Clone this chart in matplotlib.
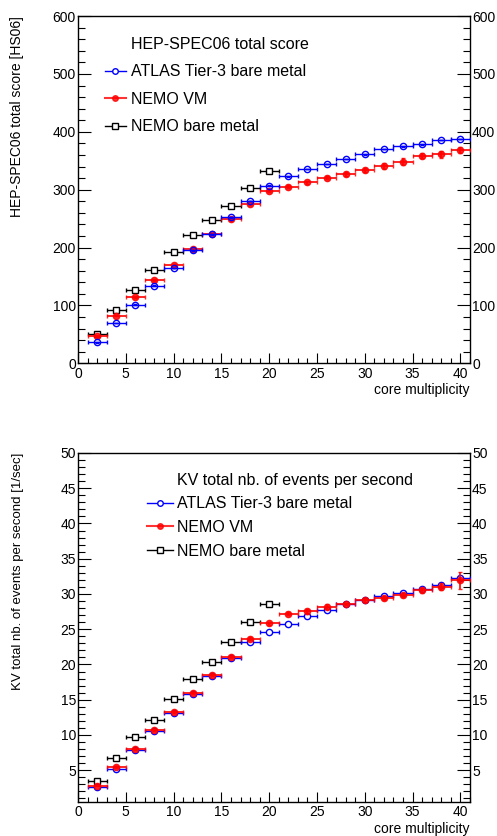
import matplotlib
matplotlib.use("Agg")
import matplotlib.pyplot as plt
from matplotlib.lines import Line2D
from matplotlib.ticker import MultipleLocator

plt.rcParams['font.family'] = ['Liberation Sans', 'DejaVu Sans']

# core multiplicity (bin centres, bin width 2)
cores = [2, 4, 6, 8, 10, 12, 14, 16, 18, 20, 22, 24, 26, 28, 30, 32, 34, 36, 38, 40]
cores_bm = cores[:10]
xerr = 1

# HEP-SPEC06 total score [HS06]
atlas_hs = [36, 70, 101.5, 134, 165, 195, 223, 252, 280.5, 307,
            323, 336, 344.5, 353, 361, 370, 375, 378.5, 386, 387.5]
nemo_vm_hs = [46.5, 82, 114, 144, 170, 197, 223, 248.5, 275, 298.5,
              305.5, 313, 321, 327, 334, 341.5, 348.5, 359, 361, 368.5]
nemo_vm_hs_err = [1, 1, 1, 1, 1, 1.5, 1.5, 2, 2, 2.5,
                  2, 2.5, 3, 3.5, 4, 5, 5.5, 5, 5.5, 5]
nemo_bm_hs = [50, 92, 127, 160.5, 193, 221.5, 247, 272.5, 303.5, 332]

# KV total nb. of events per second [1/sec]
atlas_kv = [2.63, 5.24, 7.9, 10.55, 13.15, 15.8, 18.35, 20.95, 23.14, 24.6,
            25.8, 26.86, 27.71, 28.57, 29.2, 29.67, 30.2, 30.7, 31.24, 32.3]
nemo_vm_kv = [2.82, 5.47, 7.97, 10.67, 13.24, 15.9, 18.45, 21.05, 23.67, 25.86,
              27.2, 27.57, 28.19, 28.57, 29.12, 29.43, 29.8, 30.55, 31.05, 31.95]
nemo_vm_kv_err = [0.1, 0.1, 0.1, 0.1, 0.1, 0.15, 0.15, 0.15, 0.2, 0.2,
                  0.25, 0.35, 0.35, 0.2, 0.25, 0.3, 0.3, 0.35, 0.45, 1.2]
nemo_bm_kv = [3.44, 6.7, 9.68, 12.15, 15.14, 17.94, 20.3, 23.25, 26.04, 28.57]

BLUE = '#0000ff'
RED = '#ff0000'
BLACK = '#000000'


def draw_series(ax, x, y, yerr, color, marker, fill, z, alpha=1.0, lw=1.0):
    ax.errorbar(x, y, xerr=xerr, yerr=yerr, fmt=marker, color=color,
                ecolor=color, elinewidth=lw, capsize=1.5, capthick=lw,
                markersize=4.5, markeredgewidth=1.0,
                markerfacecolor=fill, markeredgecolor=color, zorder=z,
                alpha=alpha)


def style_axes(ax, ymin, ymax, ymajor, yminor, ylabel, ylabel_size):
    ax.set_xlim(0, 41)
    ax.set_ylim(ymin, ymax)
    ax.xaxis.set_major_locator(MultipleLocator(5))
    ax.xaxis.set_minor_locator(MultipleLocator(1))
    ax.yaxis.set_major_locator(MultipleLocator(ymajor))
    ax.yaxis.set_minor_locator(MultipleLocator(yminor))
    ax.tick_params(axis='both', which='both', direction='in', top=False,
                   right=True, labelright=True, labelsize=10, width=0.8)
    ax.tick_params(axis='x', which='major', length=7, pad=2.5)
    ax.tick_params(axis='x', which='minor', length=3.5)
    ax.tick_params(axis='y', which='major', length=9.5, pad=1.5)
    ax.tick_params(axis='y', which='minor', length=5)
    for s in ax.spines.values():
        s.set_linewidth(1.0)
    ax.set_xlabel('core multiplicity', fontsize=10, loc='right')
    ax.xaxis.set_label_coords(1.0, -0.058)
    ax.set_ylabel(ylabel, fontsize=ylabel_size, loc='top')
    ax.yaxis.set_label_coords(-0.137, 1.0)


def add_legend(ax, title, anchor, spacing, hlen):
    handles = [
        Line2D([], [], linestyle='none'),
        Line2D([], [], color=BLUE, marker='o', markerfacecolor='white', markersize=4, lw=1),
        Line2D([], [], color=RED, marker='o', markerfacecolor=RED, markersize=4, lw=1.5, alpha=0.8),
        Line2D([], [], color=BLACK, marker='s', markerfacecolor='white', markersize=4, lw=1),
    ]
    labels = [title, 'ATLAS Tier-3 bare metal', 'NEMO VM', 'NEMO bare metal']
    ax.legend(handles, labels, loc='upper left', bbox_to_anchor=anchor,
              frameon=False, fontsize=11.5, borderpad=0, borderaxespad=0,
              handlelength=hlen, handletextpad=0.3, labelspacing=spacing)


fig = plt.figure(figsize=(4.97, 8.36), dpi=100)
ax1 = fig.add_axes([0.1569, 0.5654, 0.7887, 0.4154])
ax2 = fig.add_axes([0.1569, 0.0407, 0.7887, 0.4175])

# top panel
draw_series(ax1, cores_bm, nemo_bm_hs, 0.5, BLACK, 's', 'white', 3)
draw_series(ax1, cores, nemo_vm_hs, nemo_vm_hs_err, RED, 'o', RED, 4, alpha=0.85, lw=1.4)
draw_series(ax1, cores, atlas_hs, 0.5, BLUE, 'o', 'none', 5)
style_axes(ax1, 0, 600, 100, 20, 'HEP-SPEC06 total score [HS06]', 10)
add_legend(ax1, 'HEP-SPEC06 total score', (0.069, 0.94), 0.78, 1.3)

# bottom panel
draw_series(ax2, cores_bm, nemo_bm_kv, 0.05, BLACK, 's', 'white', 3)
draw_series(ax2, cores, atlas_kv, 0.05, BLUE, 'o', 'white', 4)
draw_series(ax2, cores, nemo_vm_kv, nemo_vm_kv_err, RED, 'o', RED, 5, alpha=0.85, lw=1.4)
style_axes(ax2, 0.5, 50, 5, 1, 'KV total nb. of events per second [1/sec]', 9.5)
add_legend(ax2, 'KV total nb. of events per second', (0.176, 0.943), 0.54, 1.6)

fig.savefig('out.png', dpi=100)
